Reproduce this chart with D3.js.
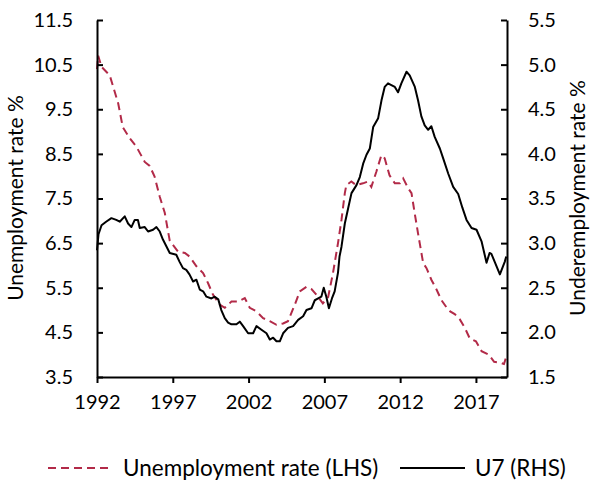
<!DOCTYPE html>
<html>
<head>
<meta charset="utf-8">
<script src="https://cdn.jsdelivr.net/npm/d3@7"></script>
<style>
  body { margin: 0; background: #fff; }
  text { font-family: Lato, "Open Sans", sans-serif; fill: #000; }
</style>
</head>
<body>
<script>
// unemployment rate, left axis
var unempYears = [1992.0,1992.08,1992.3,1992.84,1993.4,1993.7,1994.16,1994.6,1995.15,1995.48,1995.8,
  1996.14,1996.47,1996.8,1997.35,1997.8,1998.1,1998.56,1999.0,1999.33,1999.66,2000.1,2000.43,2000.87,
  2001.3,2001.53,2001.75,2002.08,2002.52,2002.96,2003.4,2003.84,2004.28,2004.6,2005.05,2005.38,2005.82,
  2006.15,2006.48,2006.9,2007.25,2007.57,2007.9,2008.13,2008.35,2008.45,2008.78,2009.1,2009.55,2009.87,
  2010.1,2010.43,2010.76,2010.98,2011.3,2011.65,2011.98,2012.2,2012.53,2012.75,2012.96,2013.18,2013.52,
  2013.74,2014.06,2014.4,2014.73,2015.06,2015.3,2015.6,2015.94,2016.27,2016.6,2017.0,2017.37,2017.85,
  2018.2,2018.6,2018.85,2019.0];
var unempRate = [10.4,10.7,10.45,10.26,9.63,9.10,8.85,8.66,8.32,8.23,7.99,
  7.54,7.18,6.55,6.31,6.28,6.2,5.98,5.83,5.6,5.34,5.12,5.05,5.19,
  5.19,5.23,5.27,5.05,4.97,4.82,4.75,4.67,4.70,4.75,5.12,5.42,5.52,
  5.47,5.34,5.15,5.29,5.83,6.5,7.02,7.62,7.80,7.88,7.80,7.84,7.88,
  7.76,8.1,8.47,8.40,8.02,7.84,7.84,7.95,7.73,7.62,7.17,6.72,6.05,
  5.94,5.68,5.46,5.22,5.06,4.97,4.91,4.79,4.60,4.36,4.30,4.08,4.0,
  3.84,3.82,3.79,3.95];

// U7 underemployment rate, right axis
var u7Years = [1992.0,1992.1,1992.3,1992.6,1992.95,1993.27,1993.5,1993.83,1994.05,1994.27,1994.49,1994.7,
  1994.82,1995.15,1995.37,1995.7,1995.92,1996.14,1996.35,1996.8,1997.23,1997.45,1997.67,1997.89,1998.1,
  1998.34,1998.56,1998.78,1999.0,1999.22,1999.55,1999.77,2000.0,2000.2,2000.43,2000.65,2000.87,2001.2,
  2001.42,2001.64,2001.97,2002.3,2002.52,2002.85,2003.18,2003.4,2003.62,2003.84,2004.06,2004.28,2004.6,
  2004.94,2005.27,2005.6,2005.82,2006.15,2006.37,2006.59,2006.8,2006.96,2007.13,2007.3,2007.5,2007.68,
  2007.9,2008.0,2008.13,2008.35,2008.57,2008.79,2009.12,2009.34,2009.56,2009.78,2010.0,2010.22,2010.55,
  2010.77,2010.98,2011.2,2011.42,2011.65,2011.86,2012.08,2012.42,2012.63,2012.97,2013.18,2013.4,2013.62,
  2013.85,2014.06,2014.28,2014.62,2014.84,2015.17,2015.5,2015.83,2016.1,2016.38,2016.71,2017.04,2017.37,
  2017.7,2017.9,2018.02,2018.24,2018.58,2018.9,2019.0];
var u7Rate = [2.92,3.1,3.20,3.24,3.28,3.26,3.24,3.30,3.22,3.18,3.26,3.26,
  3.17,3.18,3.13,3.15,3.18,3.13,3.04,2.89,2.87,2.79,2.72,2.70,2.65,
  2.57,2.59,2.48,2.46,2.40,2.38,2.40,2.37,2.25,2.16,2.11,2.09,2.09,
  2.12,2.07,1.99,1.99,2.07,2.03,1.99,1.92,1.94,1.90,1.90,1.99,2.05,
  2.07,2.14,2.18,2.25,2.27,2.36,2.38,2.40,2.50,2.40,2.27,2.38,2.46,
  2.67,2.85,2.96,3.22,3.39,3.56,3.65,3.74,3.89,3.99,4.06,4.30,4.40,
  4.60,4.75,4.79,4.77,4.75,4.69,4.79,4.92,4.88,4.75,4.60,4.42,4.32,
  4.27,4.31,4.19,4.06,3.95,3.78,3.63,3.55,3.40,3.26,3.17,3.15,3.02,
  2.78,2.89,2.88,2.79,2.65,2.79,2.85];

var xTicks = [1992,1997,2002,2007,2012,2017];
var leftTicks = [3.5,4.5,5.5,6.5,7.5,8.5,9.5,10.5,11.5];
var rightTicks = [1.5,2.0,2.5,3.0,3.5,4.0,4.5,5.0,5.5];

var W = 591, H = 485;
var m = {left:97, right:84, top:20, bottom:108};
var red = '#B22A48';

var svg = d3.select('body').append('svg').attr('width',W).attr('height',H);

var x = d3.scaleLinear().domain([1992,2019.05]).range([m.left, W-m.right]);
var yL = d3.scaleLinear().domain([3.5,11.5]).range([H-m.bottom, m.top]);
var yR = d3.scaleLinear().domain([1.5,5.5]).range([H-m.bottom, m.top]);

// lines
var lineL = d3.line().x(function(d){return x(d[0])}).y(function(d){return yL(d[1])});
var lineR = d3.line().x(function(d){return x(d[0])}).y(function(d){return yR(d[1])});

svg.append('path').datum(d3.zip(unempYears,unempRate))
  .attr('d',lineL).attr('fill','none').attr('stroke',red)
  .attr('stroke-width',2).attr('stroke-dasharray','8,5');
svg.append('path').datum(d3.zip(u7Years,u7Rate))
  .attr('d',lineR).attr('fill','none').attr('stroke','#000')
  .attr('stroke-width',2).attr('stroke-linejoin','round');

// axes, ticks point inward on the y axes
var axL = svg.append('g').attr('transform','translate('+m.left+',0)')
  .call(d3.axisLeft(yL).tickValues(leftTicks).tickFormat(d3.format('.1f')).tickSizeInner(-6).tickSizeOuter(0).tickPadding(24));
var axR = svg.append('g').attr('transform','translate('+(W-m.right)+',0)')
  .call(d3.axisRight(yR).tickValues(rightTicks).tickFormat(d3.format('.1f')).tickSizeInner(-6).tickSizeOuter(0).tickPadding(21));
var axB = svg.append('g').attr('transform','translate(0,'+(H-m.bottom)+')')
  .call(d3.axisBottom(x).tickValues(xTicks).tickFormat(d3.format('d')).tickSizeInner(6).tickSizeOuter(0).tickPadding(12));

[axL,axR,axB].forEach(function(a){
  a.selectAll('.domain').attr('stroke','#000').attr('stroke-width',2);
  a.selectAll('.tick line').attr('stroke','#000').attr('stroke-width',2);
  a.selectAll('.tick text').style('font-size','20px').attr('fill','#000');
});

// axis titles
svg.append('text').attr('transform','translate(23,198) rotate(-90)')
  .attr('text-anchor','middle').style('font-size','21px').text('Unemployment rate %');
svg.append('text').attr('transform','translate(585,198) rotate(-90)')
  .attr('text-anchor','middle').style('font-size','21px').text('Underemployment rate %');

// legend
var lg = svg.append('g');
lg.append('line').attr('x1',48).attr('x2',112).attr('y1',468).attr('y2',468)
  .attr('stroke',red).attr('stroke-width',2).attr('stroke-dasharray','8,5');
lg.append('text').attr('x',123).attr('y',476).style('font-size','22.5px').text('Unemployment rate (LHS)');
lg.append('line').attr('x1',400).attr('x2',465).attr('y1',468).attr('y2',468)
  .attr('stroke','#000').attr('stroke-width',2);
lg.append('text').attr('x',475).attr('y',476).style('font-size','22.5px').text('U7 (RHS)');
</script>
</body>
</html>
